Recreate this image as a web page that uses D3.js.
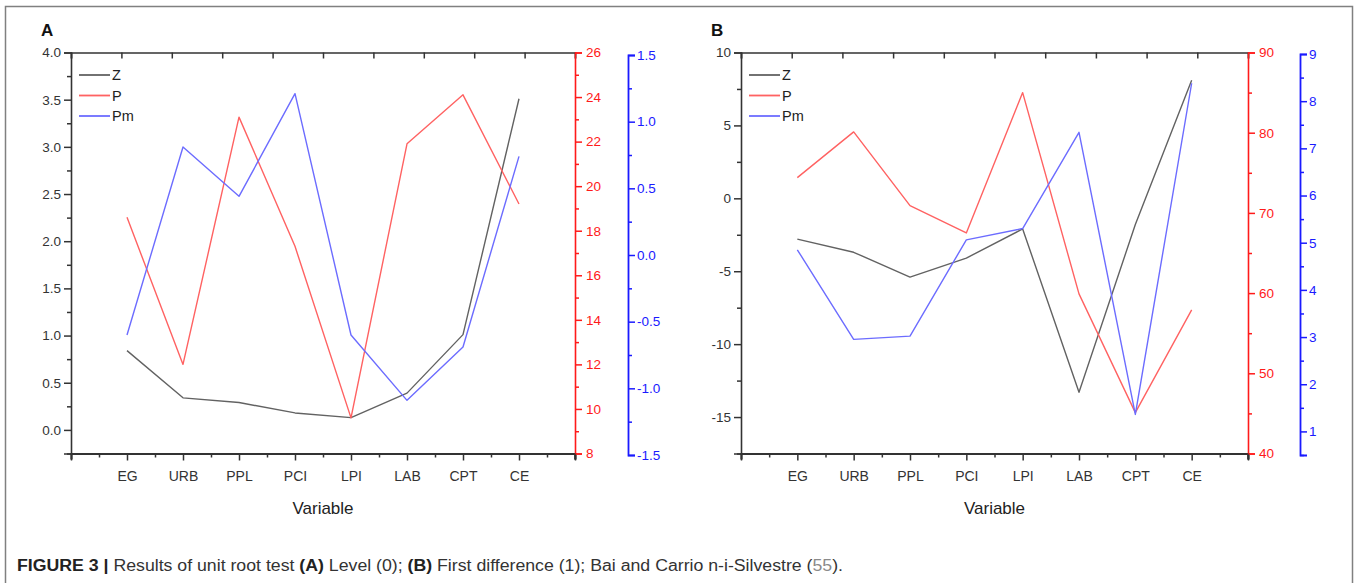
<!DOCTYPE html>
<html>
<head>
<meta charset="utf-8">
<script src="https://cdn.jsdelivr.net/npm/d3@7"></script>
<style>
body { margin: 0; background: #fff; }
svg { display: block; font-family: "Liberation Sans", Arial, sans-serif; }
.tick text { font-size: 13.5px; }
</style>
</head>
<body>
<div class="wrapper"></div>
<script>
const categories = ['EG', 'URB', 'PPL', 'PCI', 'LPI', 'LAB', 'CPT', 'CE'];
const seriesNames = ['Z', 'P', 'Pm'];

// panel A: level (0)
const zLevel = [0.84, 0.34, 0.29, 0.18, 0.13, 0.39, 1.01, 3.51];
const pLevel = [18.6, 12.0, 23.1, 17.3, 9.6, 21.9, 24.1, 19.2];
const pmLevel = [-0.6, 0.81, 0.44, 1.21, -0.6, -1.09, -0.69, 0.74];

// panel B: first difference (1)
const zDiff = [-2.8, -3.7, -5.4, -4.1, -2.1, -13.3, -1.8, 8.1];
const pDiff = [74.4, 80.1, 70.9, 67.5, 85.0, 59.9, 45.1, 57.9];
const pmDiff = [4.85, 2.95, 3.02, 5.06, 5.3, 7.34, 1.36, 8.38];

const W = 1359, H = 583;
const colZ = '#626262', colP = '#ff6262', colPm = '#6c6cff';
const axisRed = '#ff1a1a', axisBlue = '#1a1aff', axisDark = '#333';

const svg = d3.select('.wrapper').append('svg')
.attr('width', W)
.attr('height', H)

// outer frame (open at the bottom)
svg.append('path')
.attr('d', `M5.5,${H} V6.5 H1352.5 V${H}`)
.attr('fill', 'none')
.attr('stroke', '#808080')
.attr('stroke-width', 1.5)

const hyphen = f => d => f(d).replace('\u2212', '-');
const fmt1 = hyphen(d3.format('.1f'));
const fmtInt = hyphen(d3.format('d'));

const isMajor = (d, step) => Math.abs(d / step - Math.round(d / step)) < 1e-6;

const drawPanel = (cfg) => {

	const g = svg.append('g');

	const x = d3.scaleLinear().domain([0, categories.length + 1]).range([cfg.x0, cfg.x1]);
	const xTop = d3.scaleLinear().domain([0, 10]).range([cfg.x0, cfg.x1]);
	const yL = d3.scaleLinear().domain(cfg.leftDomain).range([cfg.y1, cfg.y0]);
	const yR = d3.scaleLinear().domain(cfg.redDomain).range([cfg.y1, cfg.y0]);
	const yB = d3.scaleLinear().domain(cfg.blueDomain).range([cfg.by1, cfg.by0]);

	// panel letter
	g.append('text')
	.attr('x', cfg.x0 - 30)
	.attr('y', 36)
	.attr('font-size', 17)
	.attr('font-weight', 'bold')
	.attr('fill', '#111')
	.text(cfg.letter)

	// top axis, inward ticks
	const top = g.append('g')
	.attr('transform', `translate(0,${cfg.y0})`)
	.call(d3.axisTop(xTop).tickValues(d3.range(0, 11)).tickSize(-6).tickFormat(''))
	top.select('.domain').attr('stroke', axisDark).attr('stroke-width', 1.6)
	top.selectAll('.tick line').attr('stroke', axisDark).attr('stroke-width', 1.5)

	// bottom axis
	const bottom = g.append('g')
	.attr('transform', `translate(0,${cfg.y1})`)
	.call(d3.axisBottom(x)
		.tickValues(d3.range(0, categories.length + 1.01, 0.5))
		.tickSize(6)
		.tickPadding(12)
		.tickFormat(d => Number.isInteger(d) && d >= 1 && d <= categories.length ? categories[d - 1] : ''))
	bottom.select('.domain').attr('stroke', axisDark).attr('stroke-width', 2.2)
	bottom.selectAll('.tick line')
	.attr('stroke', axisDark)
	.attr('stroke-width', 1.5)
	.attr('y2', d => Number.isInteger(d) ? 7 : 4)
	bottom.selectAll('.tick text').attr('fill', '#333').style('font-size', '14px')

	g.append('text')
	.attr('x', (cfg.x0 + cfg.x1) / 2)
	.attr('y', 514)
	.attr('text-anchor', 'middle')
	.attr('font-size', 17)
	.attr('fill', '#222')
	.text('Variable')

	// left axis
	const left = g.append('g')
	.attr('transform', `translate(${cfg.x0},0)`)
	.call(d3.axisLeft(yL)
		.tickValues(d3.range(cfg.leftDomain[0], cfg.leftDomain[1] + 0.001, cfg.leftMinor))
		.tickSize(7)
		.tickPadding(3)
		.tickFormat(d => isMajor(d, cfg.leftMajor) ? cfg.leftFmt(d) : ''))
	left.select('.domain').attr('stroke', axisDark).attr('stroke-width', 1.6)
	left.selectAll('.tick line')
	.attr('stroke', axisDark)
	.attr('stroke-width', 1.5)
	.attr('x2', d => isMajor(d, cfg.leftMajor) ? -7 : -4)
	left.selectAll('.tick text').attr('fill', '#333')

	// red right axis
	const red = g.append('g')
	.attr('transform', `translate(${cfg.x1},0)`)
	.call(d3.axisRight(yR)
		.tickValues(d3.range(cfg.redDomain[0], cfg.redDomain[1] + 0.001, cfg.redMinor))
		.tickSize(7)
		.tickPadding(4)
		.tickFormat(d => isMajor(d, cfg.redMajor) ? d : ''))
	red.select('.domain').attr('stroke', axisRed).attr('stroke-width', 1.6)
	red.selectAll('.tick line')
	.attr('stroke', axisRed)
	.attr('stroke-width', 1.5)
	.attr('x2', d => isMajor(d, cfg.redMajor) ? 7 : 4)
	red.selectAll('.tick text').attr('fill', axisRed)

	// small gray tick at the bottom right corner
	g.append('line')
	.attr('x1', cfg.x1).attr('x2', cfg.x1)
	.attr('y1', cfg.y1).attr('y2', cfg.y1 + 6)
	.attr('stroke', axisDark)
	.attr('stroke-width', 1.5)

	// blue right axis, offset
	const blue = g.append('g')
	.attr('transform', `translate(${cfg.bx},0)`)
	.call(d3.axisRight(yB)
		.tickValues(d3.range(cfg.blueDomain[0], cfg.blueDomain[1] + 0.001, cfg.blueMinor))
		.tickSize(7)
		.tickPadding(2)
		.tickFormat(d => isMajor(d, cfg.blueMajor) ? cfg.blueFmt(d) : ''))
	blue.select('.domain').attr('stroke', axisBlue).attr('stroke-width', 1.8)
	blue.selectAll('.tick line')
	.attr('stroke', axisBlue)
	.attr('stroke-width', 1.5)
	.attr('x2', d => isMajor(d, cfg.blueMajor) ? 7 : 4)
	blue.selectAll('.tick text').attr('fill', axisBlue)

	// series
	const series = [
		{ name: 'Z', values: cfg.z, y: yL, color: colZ },
		{ name: 'P', values: cfg.p, y: yR, color: colP },
		{ name: 'Pm', values: cfg.pm, y: yB, color: colPm }
	];

	series.forEach(s => {
		const line = d3.line()
		.x((d, i) => x(i + 1))
		.y(d => s.y(d))

		g.append('path')
		.datum(s.values)
		.attr('d', line)
		.attr('fill', 'none')
		.attr('stroke', s.color)
		.attr('stroke-width', 1.4)
		.attr('stroke-linejoin', 'round')
	})

	// legend
	const legend = g.append('g')
	.attr('transform', `translate(${cfg.x0 + 8},75)`)

	series.forEach((s, i) => {
		legend.append('line')
		.attr('x1', 0).attr('x2', 31)
		.attr('y1', i * 20.5).attr('y2', i * 20.5)
		.attr('stroke', s.color)
		.attr('stroke-width', 1.8)

		legend.append('text')
		.attr('x', 33)
		.attr('y', i * 20.5 + 5)
		.attr('font-size', 14.5)
		.attr('fill', '#222')
		.text(seriesNames[i])
	})
}

drawPanel({
	letter: 'A',
	x0: 71, x1: 575, y0: 52.5, y1: 453.5,
	bx: 628, by0: 55, by1: 455,
	z: zLevel, p: pLevel, pm: pmLevel,
	leftDomain: [-0.25, 4.0], leftMinor: 0.25, leftMajor: 0.5, leftFmt: fmt1,
	redDomain: [8, 26], redMinor: 1, redMajor: 2,
	blueDomain: [-1.5, 1.5], blueMinor: 0.25, blueMajor: 0.5, blueFmt: fmt1
})

drawPanel({
	letter: 'B',
	x0: 741, x1: 1248, y0: 52.5, y1: 453.5,
	bx: 1300, by0: 54, by1: 455,
	z: zDiff, p: pDiff, pm: pmDiff,
	leftDomain: [-17.5, 10], leftMinor: 2.5, leftMajor: 5, leftFmt: fmtInt,
	redDomain: [40, 90], redMinor: 5, redMajor: 10,
	blueDomain: [0.5, 9], blueMinor: 0.5, blueMajor: 1, blueFmt: fmtInt
})

// caption
const caption = svg.append('text')
.attr('x', 17)
.attr('y', 571)
.attr('font-size', 16)
.attr('textLength', 826)
.attr('lengthAdjust', 'spacingAndGlyphs')
.attr('fill', '#333')

const parts = [
	['FIGURE 3 | ', 'bold', '#222'],
	['Results of unit root test ', 'normal', '#333'],
	['(A)', 'bold', '#222'],
	[' Level (0); ', 'normal', '#333'],
	['(B)', 'bold', '#222'],
	[' First difference (1); Bai and Carrio n-i-Silvestre (', 'normal', '#333'],
	['55', 'normal', '#8a8a8a'],
	[').', 'normal', '#333']
];

caption.selectAll('tspan')
.data(parts)
.enter()
.append('tspan')
.attr('font-weight', d => d[1])
.attr('fill', d => d[2])
.style('white-space', 'pre')
.text(d => d[0])
</script>
</body>
</html>
